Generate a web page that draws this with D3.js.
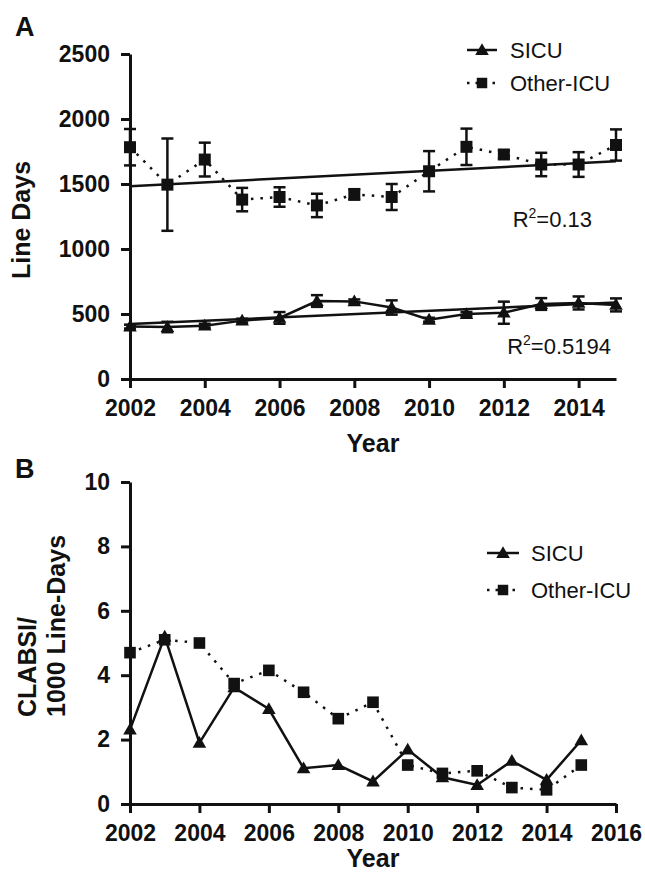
<!DOCTYPE html>
<html>
<head>
<meta charset="utf-8">
<script src="https://cdn.jsdelivr.net/npm/d3@7"></script>
<style>
  html, body { margin: 0; padding: 0; background: #fff; }
  svg { display: block; }
  text { font-family: "Liberation Sans", Arial, Helvetica, sans-serif; fill: #111; }
</style>
</head>
<body>
<svg id="chart" width="645" height="877"></svg>
<script>
// ---------- DATA ----------
const years = [2002, 2003, 2004, 2005, 2006, 2007, 2008, 2009, 2010, 2011, 2012, 2013, 2014, 2015];

// Panel A: line days (mean and error)
const sicuDays      = [403, 400, 410, 449, 470, 600, 597, 550, 456, 500, 510, 577, 585, 570];
const sicuDaysErr   = [15, 40, 15, 15, 45, 45, 15, 55, 15, 15, 85, 45, 50, 50];
const otherDays     = [1783, 1495, 1688, 1380, 1400, 1335, 1420, 1400, 1598, 1786, 1727, 1650, 1650, 1800];
const otherDaysErr  = [140, 355, 130, 90, 75, 90, 40, 100, 155, 140, 30, 90, 95, 120];

// Panel B: CLABSI per 1000 line-days
const sicuRate  = [2.31, 5.2, 1.90, 3.62, 2.95, 1.11, 1.21, 0.70, 1.69, 0.83, 0.59, 1.34, 0.75, 1.98];
const otherRate = [4.70, 5.1, 5.0, 3.74, 4.15, 3.47, 2.65, 3.16, 1.21, 0.95, 1.03, 0.51, 0.44, 1.21];

const yTicksA = [0, 500, 1000, 1500, 2000, 2500];
const xTicksA = [2002, 2004, 2006, 2008, 2010, 2012, 2014];
const yTicksB = [0, 2, 4, 6, 8, 10];
const xTicksB = [2002, 2004, 2006, 2008, 2010, 2012, 2014, 2016];
const seriesNames = ["SICU", "Other-ICU"];
const r2Labels = ["0.13", "0.5194"];

// ---------- HELPERS ----------
const svg = d3.select("#chart");
const INK = "#111";
const DOTS = "2.5,7";

function linreg(xs, ys) {
  const n = xs.length;
  const mx = d3.mean(xs), my = d3.mean(ys);
  let sxy = 0, sxx = 0;
  for (let i = 0; i < n; i++) { sxy += (xs[i] - mx) * (ys[i] - my); sxx += (xs[i] - mx) ** 2; }
  const b = sxy / sxx;
  return x => my + b * (x - mx);
}

function drawAxes(g, x, y, xTicks, yTicks) {
  const ax = g.append("g").attr("transform", `translate(0,${y.range()[0]})`)
    .call(d3.axisBottom(x).tickValues(xTicks).tickFormat(d3.format("d")).tickSize(9).tickSizeOuter(0).tickPadding(12));
  const ay = g.append("g").attr("transform", `translate(${x.range()[0]},0)`)
    .call(d3.axisLeft(y).tickValues(yTicks).tickFormat(d3.format("d")).tickSize(9).tickSizeOuter(0).tickPadding(11));
  [ax, ay].forEach(a => {
    a.select(".domain").attr("stroke", INK).attr("stroke-width", 3);
    a.selectAll(".tick line").attr("stroke", INK).attr("stroke-width", 3);
    a.selectAll(".tick text").attr("fill", INK).style("font-size", "23px").style("font-weight", "bold");
  });
  ax.selectAll(".tick text").attr("dy", "0.71em");
  return [ax, ay];
}

const tri = d3.symbol().type(d3.symbolTriangle).size(80);
const sq = d3.symbol().type(d3.symbolSquare).size(144);

function legend(g, x0, x1, xt, y1, y2) {
  const mid = (x0 + x1) / 2;
  g.append("line").attr("x1", x0).attr("x2", x1).attr("y1", y1).attr("y2", y1)
    .attr("stroke", INK).attr("stroke-width", 2.5);
  g.append("path").attr("d", tri()).attr("transform", `translate(${mid},${y1 + 1})`).attr("fill", INK);
  g.append("text").attr("x", xt).attr("y", y1).attr("dy", "0.35em").style("font-size", "22px").text(seriesNames[0]);
  g.append("line").attr("x1", x0).attr("x2", x1).attr("y1", y2).attr("y2", y2)
    .attr("stroke", INK).attr("stroke-width", 2.5).attr("stroke-dasharray", "2.5,6");
  g.append("path").attr("d", d3.symbol().type(d3.symbolSquare).size(110)()).attr("transform", `translate(${mid},${y2})`).attr("fill", INK);
  g.append("text").attr("x", xt).attr("y", y2).attr("dy", "0.35em").style("font-size", "22px").text(seriesNames[1]);
}

// ---------- PANEL A ----------
const gA = svg.append("g");
const xA = d3.scaleLinear().domain([2002, 2015]).range([130, 616]);
const yA = d3.scaleLinear().domain([0, 2500]).range([379, 54]);

gA.append("text").attr("x", 15).attr("y", 36).style("font-size", "27px").style("font-weight", "bold").text("A");

// regression lines
const regO = linreg(years, otherDays);
const regS = linreg(years, sicuDays);
[regO, regS].forEach(f => {
  gA.append("line").attr("x1", xA(2002)).attr("x2", xA(2015))
    .attr("y1", yA(f(2002))).attr("y2", yA(f(2015)))
    .attr("stroke", INK).attr("stroke-width", 2.5);
});

// series lines
const lineA = (vals) => d3.line().x((d, i) => xA(years[i])).y(d => yA(d))(vals);
gA.append("path").attr("d", lineA(otherDays)).attr("fill", "none").attr("stroke", INK)
  .attr("stroke-width", 2.5).attr("stroke-dasharray", DOTS);
gA.append("path").attr("d", lineA(sicuDays)).attr("fill", "none").attr("stroke", INK).attr("stroke-width", 2.5);

// error bars
function errBars(vals, errs) {
  const eb = gA.append("g").attr("stroke", INK).attr("stroke-width", 2.5);
  vals.forEach((v, i) => {
    const cx = xA(years[i]);
    const top = yA(v + errs[i]), bot = yA(v - errs[i]);
    eb.append("line").attr("x1", cx).attr("x2", cx).attr("y1", top).attr("y2", bot);
    eb.append("line").attr("x1", cx - 6).attr("x2", cx + 6).attr("y1", top).attr("y2", top);
    eb.append("line").attr("x1", cx - 6).attr("x2", cx + 6).attr("y1", bot).attr("y2", bot);
  });
}
errBars(otherDays, otherDaysErr);
errBars(sicuDays, sicuDaysErr);

gA.selectAll(".sqA").data(otherDays).join("path").attr("class", "sqA")
  .attr("d", sq).attr("fill", INK)
  .attr("transform", (d, i) => `translate(${xA(years[i])},${yA(d)})`);
gA.selectAll(".trA").data(sicuDays).join("path").attr("class", "trA")
  .attr("d", tri).attr("fill", INK)
  .attr("transform", (d, i) => `translate(${xA(years[i])},${yA(d) + 1})`);

drawAxes(gA, xA, yA, xTicksA, yTicksA);

gA.append("text").attr("transform", "translate(30,220) rotate(-90)").attr("text-anchor", "middle")
  .style("font-size", "25px").style("font-weight", "bold").text("Line Days");
gA.append("text").attr("x", 373).attr("y", 452).attr("text-anchor", "middle")
  .style("font-size", "25px").style("font-weight", "bold").text("Year");

function r2(g, xEnd, yBase, val) {
  const t = g.append("text").attr("x", xEnd).attr("y", yBase).attr("text-anchor", "end").style("font-size", "22px");
  t.append("tspan").text("R");
  t.append("tspan").attr("dy", "-9").style("font-size", "14px").text("2");
  t.append("tspan").attr("dy", "9").text("=" + val);
}
r2(gA, 592, 227, r2Labels[0]);
r2(gA, 611, 354, r2Labels[1]);

legend(gA, 467, 497, 510, 50, 83);

// ---------- PANEL B ----------
const gB = svg.append("g");
const xB = d3.scaleLinear().domain([2002, 2016]).range([130, 616]);
const yB = d3.scaleLinear().domain([0, 10]).range([804, 482]);

gB.append("text").attr("x", 15).attr("y", 478).style("font-size", "27px").style("font-weight", "bold").text("B");

const lineB = (vals) => d3.line().x((d, i) => xB(years[i])).y(d => yB(d))(vals);
gB.append("path").attr("d", lineB(otherRate)).attr("fill", "none").attr("stroke", INK)
  .attr("stroke-width", 2.5).attr("stroke-dasharray", DOTS);
gB.append("path").attr("d", lineB(sicuRate)).attr("fill", "none").attr("stroke", INK).attr("stroke-width", 2.5);

gB.selectAll(".sqB").data(otherRate).join("path").attr("class", "sqB")
  .attr("d", d3.symbol().type(d3.symbolSquare).size(135)()).attr("fill", INK)
  .attr("transform", (d, i) => `translate(${xB(years[i])},${yB(d)})`);
gB.selectAll(".trB").data(sicuRate).join("path").attr("class", "trB")
  .attr("d", tri).attr("fill", INK)
  .attr("transform", (d, i) => `translate(${xB(years[i])},${yB(d) + 1})`);

drawAxes(gB, xB, yB, xTicksB, yTicksB);

const yt = gB.append("text").attr("transform", "translate(36,717) rotate(-90)").attr("text-anchor", "start")
  .style("font-size", "25px").style("font-weight", "bold");
yt.append("tspan").attr("x", 0).attr("y", 0).text("CLABSI/");
yt.append("tspan").attr("x", 0).attr("y", 29).text("1000 Line-Days");
gB.append("text").attr("x", 373).attr("y", 867).attr("text-anchor", "middle")
  .style("font-size", "25px").style("font-weight", "bold").text("Year");

legend(gB, 487, 519, 531, 553, 590);
</script>
</body>
</html>
